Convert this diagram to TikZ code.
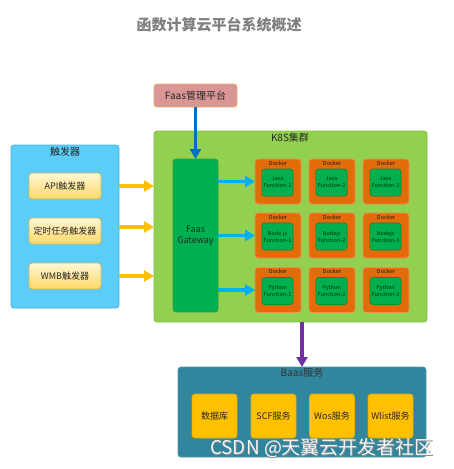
\documentclass[tikz,border=0pt]{standalone}
\usepackage{fontspec}
\setmainfont{Noto Sans CJK SC}
\usetikzlibrary{arrows.meta}
\definecolor{titlegray}{HTML}{7F7F7F}
\definecolor{salmon}{HTML}{D99694}
\definecolor{salmonb}{HTML}{E8B070}
\definecolor{trigbg}{HTML}{5BCDF8}
\definecolor{trigb}{HTML}{44B4E0}
\definecolor{ylight}{HTML}{FFF6D5}
\definecolor{ydark}{HTML}{FFD966}
\definecolor{yborder}{HTML}{D6B656}
\definecolor{k8sg}{HTML}{92D050}
\definecolor{k8sb}{HTML}{84C040}
\definecolor{gwg}{HTML}{00B050}
\definecolor{gwb}{HTML}{3A9A40}
\definecolor{dock}{HTML}{E36C0A}
\definecolor{dockb}{HTML}{F09050}
\definecolor{baas}{HTML}{31859C}
\definecolor{baasb}{HTML}{4A9AAE}
\definecolor{gold}{HTML}{FFC000}
\definecolor{goldb}{HTML}{E8AC00}
\definecolor{arrblue}{HTML}{0070C0}
\definecolor{arrcyan}{HTML}{00B0F0}
\definecolor{arrpurp}{HTML}{7030A0}
\tikzset{
  every node/.style={inner sep=0pt, outer sep=0pt, text=black!85},
  box/.style={draw, line width=0.8pt, rounded corners=3pt, align=center},
  trigitem/.style={box, draw=yborder, top color=ylight, bottom color=ydark, minimum width=72pt, minimum height=26pt, font=\fontsize{9}{10}\selectfont},
  dockbox/.style={box, fill=dock, draw=dockb, minimum width=46pt, minimum height=45pt},
  funcbox/.style={box, fill=gwg, draw=gwg!80!black, minimum width=31pt, minimum height=27pt, font=\fontsize{5.5}{7}\selectfont, text=black!80!green},
  docklabel/.style={font=\fontsize{5.5}{6}\selectfont, text=black!90},
  baasitem/.style={box, fill=gold, draw=goldb, minimum width=45pt, minimum height=44pt, font=\fontsize{9}{10}\selectfont},
  thickarrow/.style={line width=3.5pt, -{Triangle[length=10pt,width=11pt]}},
}
\begin{document}
\begin{tikzpicture}[x=1pt, y=-1pt]
\useasboundingbox (0,0) rectangle (454,469);
% title
\node (title) at (219,25) {\fontsize{15}{16}\selectfont\bfseries\color{titlegray}函数计算云平台系统概述};
% Faas management
\node[box, fill=salmon, draw=salmonb, minimum width=83pt, minimum height=23pt, font=\fontsize{10}{11}\selectfont] (faas) at (195.5,95.5) {Faas管理平台};
% trigger group
\node[box, fill=trigbg, draw=trigb, minimum width=108pt, minimum height=163pt] (trig) at (65,226.5) {};
\node[font=\fontsize{10}{11}\selectfont] (triglabel) at (65,152) {触发器};
\node[trigitem] (api) at (65,186) {API触发器};
\node[trigitem] (timer) at (65,231) {定时任务触发器};
\node[trigitem] (wmb) at (65,276) {WMB触发器};
% K8S cluster
\node[box, fill=k8sg, draw=k8sb, minimum width=273pt, minimum height=191pt] (k8s) at (290.5,226.5) {};
\node[font=\fontsize{10}{11}\selectfont] (k8slabel) at (290,138) {K8S集群};
\node[box, fill=gwg, draw=gwb, minimum width=45pt, minimum height=153pt, font=\fontsize{9}{11}\selectfont] (gw) at (195.5,235.5) {Faas\\Gateway};
% docker grid
\foreach \r/\y in {1/181.5, 2/235.5, 3/290}{
  \foreach \c/\x in {1/278, 2/332, 3/386}{
    \node[dockbox] (d\r\c) at (\x,\y) {};
    \node[docklabel] (dl\r\c) at (\x,\y-18.5) {Docker};
  }
}
\node[funcbox] (f11) at (277.5,182.5) {Java\\Function-1};
\node[funcbox] (f12) at (331.5,182.5) {Java\\Function-2};
\node[funcbox] (f13) at (385.5,182.5) {Java\\Function-3};
\node[funcbox] (f21) at (277.5,236.5) {Node.js\\Function-1};
\node[funcbox] (f22) at (331.5,236.5) {Nodejs\\Function-2};
\node[funcbox] (f23) at (385.5,236.5) {Nodejs\\Function-3};
\node[funcbox] (f31) at (277.5,291) {Python\\Function-1};
\node[funcbox] (f32) at (331.5,291) {Python\\Function-2};
\node[funcbox] (f33) at (385.5,291) {Python\\Function-3};
% Baas
\node[box, fill=baas, draw=baasb, minimum width=248pt, minimum height=90pt] (baasg) at (302,412) {};
\node[font=\fontsize{10}{11}\selectfont, text=black!80] (baaslabel) at (302,373) {Baas服务};
\node[baasitem] (db) at (214.5,416) {数据库};
\node[baasitem] (scf) at (273.5,416) {SCF服务};
\node[baasitem] (wos) at (332,416) {Wos服务};
\node[baasitem] (wlist) at (390.5,416) {Wlist服务};
% arrows
\draw[thickarrow, draw=arrblue] (faas.south) -- (gw.north);
\draw[thickarrow, draw=gold] (trig.east |- api.center) -- (k8s.west |- api.center);
\coordinate (tmid) at (119,227);
\draw[thickarrow, draw=gold] (tmid) -- (k8s.west |- tmid);
\draw[thickarrow, draw=gold] (trig.east |- wmb.center) -- (k8s.west |- wmb.center);
\draw[thickarrow, draw=arrcyan] (gw.east |- d11.center) -- (d11.west);
\draw[thickarrow, draw=arrcyan] (gw.east |- d21.center) -- (d21.west);
\draw[thickarrow, draw=arrcyan] (gw.east |- d31.center) -- (d31.west);
\draw[thickarrow, draw=arrpurp] (baasg.north |- k8s.south) -- (baasg.north);
% watermark
\node[font=\fontsize{19}{20}\selectfont, text=black!45] (wmshadow) at (322.8,448.8) {CSDN @天翼云开发者社区};
\node[font=\fontsize{19}{20}\selectfont, text=white!92!gray] (wm) at (322,448) {CSDN @天翼云开发者社区};
\end{tikzpicture}
\end{document}
